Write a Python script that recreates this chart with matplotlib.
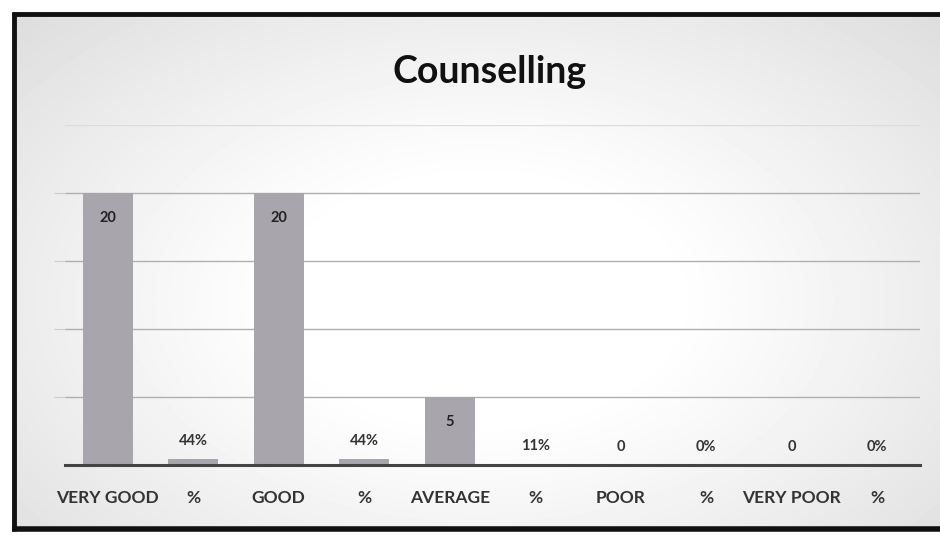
import numpy as np
import matplotlib
matplotlib.use("Agg")
import matplotlib.pyplot as plt
from matplotlib.lines import Line2D

# Survey result for counselling: counts with their share of responses
categories = ['VERY GOOD', '%', 'GOOD', '%', 'AVERAGE', '%', 'POOR', '%', 'VERY POOR', '%']
values = [20, 0.44, 20, 0.44, 5, 0.11, 0, 0, 0, 0]
is_percent = [False, True, False, True, False, True, False, True, False, True]
title = 'Counselling'

plt.rcParams['font.family'] = ['Lato', 'DejaVu Sans']

fig = plt.figure(figsize=(9.4, 5.41), dpi=100)

# Scanned-page look: white centre fading to light grey at the edges
bg = fig.add_axes([0, 0, 1, 1], zorder=-10)
yy, xx = np.mgrid[0:541, 0:940]
r = np.sqrt(((xx - 480) / 540.0) ** 2 + ((yy - 300) / 340.0) ** 2)
shade = 1.0 - 0.16 * np.clip(r - 0.35, 0, 1) ** 1.1
bg.imshow(shade, cmap='gray', vmin=0, vmax=1, extent=[0, 940, 541, 0], aspect='auto')
bg.fill_between([0, 940], 530, 541, color='white')
bg.fill_between([0, 12], 0, 541, color='white')
bg.fill_between([0, 940], 0, 12, color='white')
bg.set_xlim(0, 940)
bg.set_ylim(541, 0)
bg.axis('off')

# Frame around the chart
for xs, ys, lw in [([12, 940], [14, 14], 3.5),
                   ([14, 14], [12, 531], 3.5),
                   ([12, 940], [529, 529], 4.0)]:
    bg.add_line(Line2D(xs, ys, color='#111111', lw=lw, solid_capstyle='butt'))

ax = fig.add_axes([65 / 940, (541 - 465) / 541, 855 / 940, (465 - 125) / 541])
ax.set_facecolor('none')

x = np.arange(len(categories))
ax.bar(x, values, width=0.585, color='#a8a6ac', zorder=3)

for xi, v, pct in zip(x, values, is_percent):
    text = f"{v:.0%}" if pct else str(int(v))
    if v >= 5:
        ax.annotate(text, (xi, v), xytext=(0, -25), textcoords='offset pixels',
                    ha='center', va='center', fontsize=10.5, fontweight='bold',
                    color='#222222', zorder=4)
    else:
        ax.annotate(text, (xi, v), xytext=(0, 18), textcoords='offset pixels',
                    ha='center', va='center', fontsize=10.5, fontweight='bold',
                    color='#333333', zorder=4)

ax.set_xlim(-0.5, len(categories) - 0.5)
ax.set_ylim(0, 25)
ax.set_yticks([5, 10, 15, 20])
ax.yaxis.grid(True, color='#b0b0b0', lw=1.0, zorder=0)
ax.axhline(25, color='#dcdcdc', lw=1.0, zorder=0)
ax.tick_params(axis='y', length=8, color='#cccccc', labelleft=False)
ax.set_xticks(x)
ax.set_xticklabels(categories, fontsize=12.5, fontweight='bold', color='#333333')
ax.tick_params(axis='x', length=0, pad=18)

for side in ['top', 'right', 'left']:
    ax.spines[side].set_visible(False)
ax.spines['bottom'].set_color('#444444')
ax.spines['bottom'].set_linewidth(2.2)
ax.spines['bottom'].set_zorder(5)

fig.text(490 / 940, 1 - 72 / 541, title, ha='center', va='center',
         fontsize=27, fontweight='bold', color='#111111')

fig.savefig('out.png', dpi=100)
